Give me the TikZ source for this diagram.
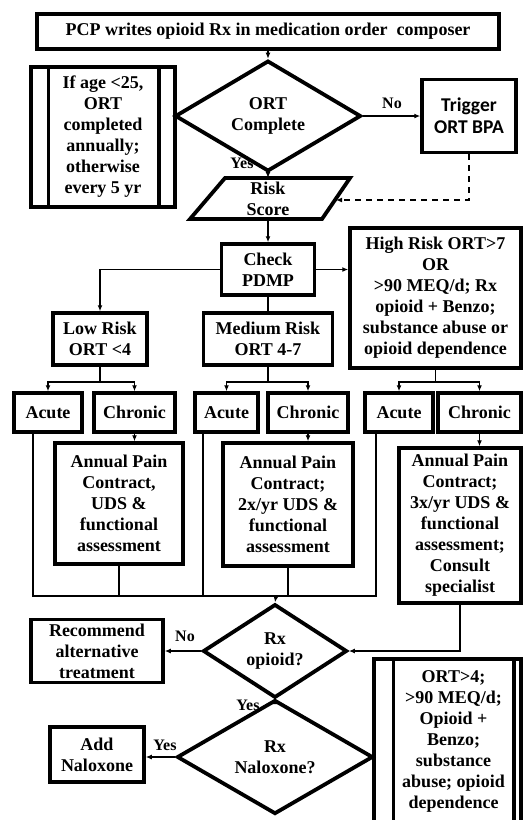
\documentclass[tikz,border=0pt]{standalone}
\usepackage{fontspec}
\setmainfont{Liberation Serif}
\newfontfamily\calfont{Carlito}
\usetikzlibrary{shapes.geometric,arrows.meta}
\newcommand\myfs{\fontsize{18}{21}\selectfont}
\newcommand\mylblfs{\fontsize{16}{19}\selectfont}
\begin{document}
\begin{tikzpicture}[x=1pt,y=-1pt,
  box/.style={draw, line width=3.5pt, align=center, inner sep=0pt, font=\bfseries\myfs},
  dia/.style={diamond, draw, line width=3.8pt, align=center, inner sep=0pt, font=\bfseries\myfs},
  txt/.style={align=center, inner sep=0pt, font=\bfseries\myfs},
  conn/.style={line width=1.6pt, -{Latex[length=6pt,width=5pt]}},
  plainline/.style={line width=1.6pt},
  dashline/.style={line width=1.6pt, dash pattern=on 6pt off 5pt, -{Latex[length=6pt,width=5pt]}},
  lbl/.style={inner sep=0pt, font=\bfseries\mylblfs},
  bar/.style={line width=3.5pt}]
\useasboundingbox (0,0) rectangle (524,820);
\clip (0,0) rectangle (524,820);
\fill[white] (0,0) rectangle (524,820);

% top
\node[box, minimum width=462pt, minimum height=35pt] (top) at (268,31.5) {PCP writes opioid Rx in medication order \ composer};
% left note
\node[box, minimum width=144pt, minimum height=140pt] (note) at (103,137) {If age <25,\\ORT\\completed\\annually;\\otherwise\\every 5 yr};
\draw[bar] ([xshift=19pt]note.north west) -- ([xshift=19pt]note.south west);
\draw[bar] ([xshift=-18pt]note.north east) -- ([xshift=-18pt]note.south east);
% ORT diamond
\node[dia, minimum width=186pt, minimum height=84pt] (ort) at (268,116) {ORT\\Complete};
\node[box, minimum width=94pt, minimum height=73pt, font=\calfont\bfseries\fontsize{19.5}{22}\selectfont] (trig) at (469,116) {Trigger\\ORT BPA};
\node[lbl] (no1) at (392,103) {No};
\node[lbl] (yes1) at (242,163) {Yes};
% risk score
\draw[line width=3.8pt, line join=miter] (225,178) -- (350,178) -- (322,219) -- (190,219) -- cycle;
\node[txt, minimum width=100pt, minimum height=41pt] (risk) at (268,198.5) {Risk\\Score};
\coordinate (riskedge) at (336,200);
% check
\node[box, minimum width=93pt, minimum height=51pt] (check) at (268,269.5) {Check\\PDMP};
% risk levels
\node[box, minimum width=94pt, minimum height=52pt] (low) at (100,339) {Low Risk\\ORT <4};
\node[box, minimum width=129pt, minimum height=52pt] (med) at (268,339) {Medium Risk\\ORT 4-7};
\node[box, minimum width=171pt, minimum height=140pt] (high) at (435.5,298) {High Risk ORT>7\\OR\\>90 MEQ/d; Rx\\opioid + Benzo;\\substance abuse or\\opioid dependence};
% acute / chronic
\node[box, minimum width=68pt, minimum height=39pt] (ac1) at (48,412.5) {Acute};
\node[box, minimum width=81pt, minimum height=39pt] (ch1) at (134.5,412.5) {Chronic};
\node[box, minimum width=63pt, minimum height=39pt] (ac2) at (226.5,412.5) {Acute};
\node[box, minimum width=80pt, minimum height=39pt] (ch2) at (308,412.5) {Chronic};
\node[box, minimum width=68pt, minimum height=39pt] (ac3) at (399,412.5) {Acute};
\node[box, minimum width=83pt, minimum height=39pt] (ch3) at (479.5,412.5) {Chronic};
% annual boxes
\node[box, minimum width=128pt, minimum height=121pt] (an1) at (119,503.5) {Annual Pain\\Contract,\\UDS \&\\functional\\assessment};
\node[box, minimum width=130pt, minimum height=123pt] (an2) at (288,504.5) {Annual Pain\\Contract;\\2x/yr UDS \&\\functional\\assessment};
\node[box, minimum width=122pt, minimum height=155pt] (an3) at (460,525.5) {Annual Pain\\Contract;\\3x/yr UDS \&\\functional\\assessment;\\Consult\\specialist};
% lower part
\coordinate (bus) at (276,596);
\node[dia, minimum width=144pt, minimum height=70pt] (rxop) at (275,651) {Rx\\opioid?};
\node[box, minimum width=132pt, minimum height=63pt] (rec) at (97,651) {Recommend\\alternative\\treatment};
\node[dia, minimum width=196pt, minimum height=61pt] (nal) at (275,757) {Rx\\Naloxone?};
\node[box, minimum width=94pt, minimum height=55pt] (add) at (97,754.5) {Add\\Naloxone};
\node[lbl] (no2) at (185,636) {No};
\node[lbl] (yes2) at (248,705) {Yes};
\node[lbl] (yes3) at (165,745) {Yes};
% bottom-right note
\node[draw, line width=3.5pt, minimum width=147pt, minimum height=175pt, inner sep=0pt] (brbox) at (447.5,746.5) {};
\draw[bar] ([xshift=21pt]brbox.north west) -- ([xshift=21pt]brbox.south west);
\draw[bar] ([xshift=-9pt]brbox.north east) -- ([xshift=-9pt]brbox.south east);
\node[txt] (brtext) at (453.5,741) {ORT>4;\\>90 MEQ/d;\\Opioid +\\Benzo;\\substance\\abuse; opioid\\dependence};

% connectors
\draw[conn] (top.south) -- (ort.north);
\draw[conn] (ort.east) -- (trig.west);
\draw[conn] (ort.south) -- (risk.north);
\draw[dashline] (trig.south) |- (riskedge);
\draw[conn] (risk.south) -- (check.north);
\draw[conn] (check.west) -| (low.north);
\draw[conn] (check.east) -- (check.east -| high.west);
\draw[plainline] (check.south) -- (med.north);
\draw[conn] (low.south) -- ++(0,15) -| (ac1.north);
\draw[conn] (low.south) -- ++(0,15) -| (ch1.north);
\draw[conn] (med.south) -- ++(0,15) -| (ac2.north);
\draw[conn] (med.south) -- ++(0,15) -| (ch2.north);
\draw[conn] (high.south) -- ++(0,12) -| (ac3.north);
\draw[conn] (high.south) -- ++(0,12) -| (ch3.north);
\draw[conn] (ch1.south) -- (ch1.south |- an1.north);
\draw[conn] (ch2.south) -- (ch2.south |- an2.north);
\draw[conn] (ch3.south) -- (ch3.south |- an3.north);
\draw[plainline] ([xshift=-15pt]ac1.south) |- (bus);
\draw[plainline] ([xshift=-23pt]ac3.south) |- (bus);
\draw[plainline] ([xshift=-23.5pt]ac2.south) -- ([xshift=-23.5pt]ac2.south |- bus);
\draw[plainline] (an1.south) -- (an1.south |- bus);
\draw[plainline] (an2.south) -- (an2.south |- bus);
\draw[conn] (bus) -- (rxop.north);
\draw[conn] (an3.south) |- (rxop.east);
\draw[conn] (rxop.west) -- (rec.east);
\draw[conn] (rxop.south) -- (nal.north);
\draw[conn] (nal.west) -- (nal.west -| add.east);
\end{tikzpicture}
\end{document}
